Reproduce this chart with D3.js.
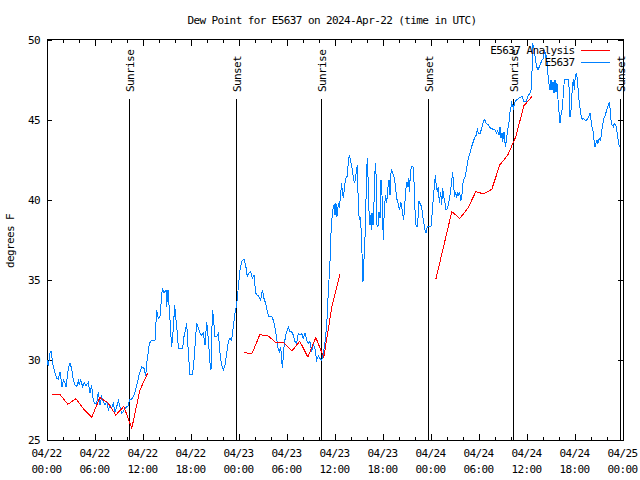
<!DOCTYPE html>
<html><head><meta charset="utf-8">
<script src="https://cdn.jsdelivr.net/npm/d3@7"></script>
<style>
body{margin:0;background:#fff}
svg{display:block}
text{font-family:"DejaVu Sans Mono",monospace;font-size:11px;letter-spacing:-0.6px;fill:#000}
</style></head><body>
<svg id="c" width="640" height="480"></svg>
<script>
const chartTitle = "Dew Point for E5637 on 2024-Apr-22 (time in UTC)";
const yAxisLabel = "degrees F";
const startTime = "2024-04-22T00:00:00Z";
const endTime = "2024-04-25T00:00:00Z";
const yTicks = [25, 30, 35, 40, 45, 50];
const seriesNames = ["E5637 Analysis", "E5637"];
const sunLabels = ["Sunrise", "Sunset", "Sunrise", "Sunset", "Sunrise", "Sunset"];
const sunTimes = ["2024-04-22T10:17:00Z", "2024-04-22T23:40:00Z", "2024-04-23T10:16:00Z",
                  "2024-04-23T23:40:00Z", "2024-04-24T10:14:00Z", "2024-04-24T23:40:00Z"];

// Analysis: hourly values, three runs (start hour offset from startTime)
const analysisStartHours = [0.6, 24.6, 48.6];
const analysisRun1 = [27.86, 27.86, 27.23, 27.58, 26.92, 26.42, 27.65, 27.33, 26.56, 27.1, 25.73, 28.1, 29.2];
const analysisRun2 = [30.48, 30.38, 31.58, 31.52, 31.1, 31.08, 30.56, 31.17, 30.19, 31.4, 30.17, 33.3, 35.35];
const analysisRun3 = [35.04, 37.15, 39.27, 38.85, 39.48, 40.52, 40.38, 40.67, 42.19, 42.81, 43.96, 45.88, 46.46];

// Station observations: hours after startTime and dew point (F)
const obsHours = [
0,0.17,0.375,0.5,0.67,0.79,1,1.21,1.42,1.625,1.71,1.875,2.04,2.25,2.375,2.67,2.875,3.08,3.29,3.5,3.71,3.92,4.04,4.21,4.46,4.67,4.875,5.17,5.375,5.58,5.71,5.92,6.21,6.42,6.625,6.83,7.04,7.25,7.46,7.67,7.875,8.08,8.29,8.5,8.71,8.92,9.125,9.33,9.54,9.75,9.96,10.17,10.29,10.58,10.875,11.21,11.5,11.83,12.125,12.33,12.46,12.79,13.08,13.5,13.71,13.92,14.125,14.42,14.625,14.875,14.96,15.125,15.375,15.58,15.71,15.79,15.96,16.125,16.29,16.42,16.96,17.125,17.46,17.67,17.875,18.21,18.375,18.71,18.92,19.125,19.33,19.54,19.75,19.96,20.17,20.375,20.5,20.67,20.79,21,21.21,21.42,21.625,21.83,22.04,22.25,22.46,22.67,22.875,23.08,23.29,23.5,23.71,23.92,24.125,24.33,24.625,24.83,25.04,25.25,25.46,25.67,25.875,26.08,26.29,26.5,26.71,26.92,27.125,27.33,27.46,27.67,28.08,28.29,28.5,28.71,28.92,29.04,29.21,29.42,29.625,29.83,30.04,30.17,30.375,30.58,30.79,31,31.21,31.42,31.625,31.83,32.04,32.25,32.46,32.67,32.875,33.08,33.29,33.5,33.71,33.92,34.125,34.33,34.54,34.75,34.96,35.08,35.17,
35.25,35.375,35.5,35.67,35.79,35.92,36,36.125,36.25,36.42,36.54,36.71,36.83,36.92,37.04,37.17,37.33,37.5,37.58,37.67,37.79,37.92,38.04,38.17,38.33,38.46,38.58,38.71,38.79,38.92,39.04,39.17,39.29,39.42,39.5,39.58,39.71,39.83,39.92,40.04,40.125,40.21,40.33,40.42,40.54,40.625,40.75,40.83,40.96,41.04,41.17,41.25,41.375,41.5,41.625,41.75,41.875,42.04,42.17,42.33,42.46,42.58,42.75,42.875,43,43.08,43.21,43.33,43.46,43.58,43.71,43.83,43.96,44.08,44.21,44.33,44.46,44.58,44.71,44.83,44.96,45.08,45.17,45.29,45.42,45.54,45.75,45.875,46,46.125,46.25,46.375,46.5,
46.625,46.83,47.04,47.25,47.375,47.54,48,48.21,48.375,48.54,48.67,48.79,48.92,49.04,49.21,49.33,49.46,49.625,49.75,49.875,50.04,50.21,50.375,50.54,50.71,50.83,50.96,51.08,51.21,51.33,51.46,51.58,51.71,51.83,51.96,52.08,52.25,52.46,52.67,52.875,53.08,53.29,53.5,53.71,53.79,53.92,54.125,54.33,54.54,54.71,54.875,55.17,55.46,55.79,56,56.21,56.33,56.5,56.625,56.75,56.875,56.96,57.125,57.29,57.46,57.58,57.71,
57.875,58.08,58.29,58.5,58.71,59.125,59.42,59.625,59.875,60.17,60.375,60.5,60.625,60.71,60.875,61.04,61.21,61.375,61.54,61.71,61.875,62.04,62.21,62.375,62.46,62.58,62.71,62.875,63,63.125,63.25,63.375,63.5,63.625,63.75,63.92,64.125,64.25,64.375,64.54,64.67,64.79,64.96,65.17,65.29,65.375,65.5,65.625,65.79,65.92,66.04,66.21,66.375,66.5,66.625,66.75,66.875,67.04,67.25,67.46,67.67,67.875,68,68.125,68.25,68.375,68.5,68.625,68.75,68.875,69.04,69.21,69.33,69.46,69.625,69.79,69.96,70.17,70.29,70.375,70.5,70.625,70.79,70.92,71.04,71.17,71.29,71.42,71.54,71.67];
const obsDewF = [
30.0,29.6,30.45,30.55,30.0,29.58,29.17,28.85,28.79,29.27,28.96,28.33,28.75,28.54,28.33,29.48,29.79,29.48,28.75,28.44,28.33,28.69,28.44,28.75,28.33,28.58,28.4,28.6,27.92,28.44,27.71,27.29,27.29,28.02,27.19,27.71,27.4,27.19,27.4,26.875,27.19,26.98,27.29,26.77,27.08,27.46,27.08,26.67,26.77,26.98,27.08,27.125,27.5,27.56,27.81,28.375,29.06,29.58,29.48,29.0,29.75,31.04,31.25,31.25,33.125,32.6,32.71,34.48,34.17,34.375,33.33,34.375,32.5,30.83,31.46,31.98,33.44,32.5,31.67,30.73,30.73,31.46,32.29,30.42,29.06,29.125,30.0,32.29,31.98,31.67,31.56,31.67,30.94,32.4,31.25,29.79,29.375,33.125,32.71,31.46,31.46,31.67,30.42,29.69,29.375,29.69,30.42,31.15,31.35,31.25,32.08,32.92,33.44,34.58,35.625,36.15,36.31,35.94,35.21,35.42,35.52,35.1,35.31,34.17,34.06,33.96,33.75,34.375,33.85,33.54,33.23,32.75,32.71,32.5,31.98,31.35,30.625,30.52,30.83,29.48,30.83,31.56,31.875,32.08,31.77,31.77,31.56,31.15,31.04,31.67,31.56,31.67,31.35,31.67,31.25,31.04,31.15,30.52,31.0,30.67,30.0,30.25,30.1,29.96,30.4,31.1,32.2,33.3,34.4,
35.0,36.15,37.92,39.17,39.58,39.69,39.06,39.79,38.96,39.79,39.48,40.42,41.04,40.52,40.1,40.73,41.35,41.46,41.77,42.4,42.81,42.5,42.19,41.875,41.25,41.04,41.46,41.875,42.19,39.58,38.75,38.96,37.92,36.04,34.9,35.83,37.19,38.54,41.46,42.6,41.46,39.79,38.44,39.06,38.125,39.17,38.44,39.06,41.25,42.29,41.25,38.44,38.33,39.27,38.85,41.25,40.31,37.5,39.58,40.31,39.79,40.625,41.25,40.31,41.67,41.92,41.67,41.56,41.25,40.73,40.1,39.9,39.58,39.375,39.9,39.58,39.17,38.75,39.58,40.52,41.15,40.83,41.35,40.52,41.56,42.08,42.08,41.15,39.375,38.44,38.33,38.85,39.9,
39.79,39.58,38.75,38.125,37.92,38.33,38.33,39.58,40.625,41.56,40.83,40.52,40.83,39.79,40.52,39.69,40.73,40.1,39.79,39.375,39.48,39.79,40.31,40.94,41.77,40.83,40.21,40.52,40.1,40.52,40.31,40.52,40.0,40.1,40.94,41.25,41.46,41.98,42.6,42.92,43.33,43.65,43.96,44.06,44.48,44.17,44.125,44.48,44.9,45.04,44.79,44.69,44.48,44.42,44.375,44.17,44.33,44.06,44.54,43.85,44.17,43.65,44.27,43.33,43.85,44.375,44.69,
45.5,46.04,45.73,46.15,46.25,46.42,46.46,46.15,46.15,46.56,46.67,46.875,48.02,49.79,49.48,48.85,48.33,48.125,48.33,48.54,48.75,48.85,49.375,48.85,49.06,48.02,47.4,46.875,47.5,46.875,47.4,46.67,47.5,46.77,47.29,45.94,44.79,45.31,45.625,46.56,47.54,47.54,47.5,47.54,46.875,45.21,45.625,46.67,47.54,46.875,47.81,47.92,46.98,46.25,45.73,45.31,45.04,45.1,45.0,45.0,45.17,45.42,45.0,44.58,44.33,43.75,43.33,43.54,43.75,43.54,43.85,43.75,44.27,44.69,45.1,45.31,45.625,45.94,46.15,45.73,45.0,44.69,44.58,44.79,44.69,44.58,44.06,43.65,43.375,43.33];

const RED = "#ff0000", BLUE = "#0080ff";
const base = new Date(startTime);
const toDate = h => new Date(base.getTime() + h * 3600000);

const svg = d3.select("#c").attr("shape-rendering", "crispEdges");
const L = 47, R = 623, T = 40, B = 440;
const x = d3.scaleUtc().domain([new Date(startTime), new Date(endTime)]).range([L, R]);
const y = d3.scaleLinear().domain([25, 50]).range([B, T]);

svg.append("rect").attr("width", 640).attr("height", 480).attr("fill", "#fff");

// title & y label
svg.append("text").attr("x", 332).attr("y", 24).attr("text-anchor", "middle").text(chartTitle);
svg.append("text").attr("transform", "translate(14,241) rotate(-90)").attr("text-anchor", "middle").text(yAxisLabel);

// axes
const major = d3.utcHour.every(6), minor = d3.utcHour.every(2);
const fmtD = d3.utcFormat("%m/%d"), fmtT = d3.utcFormat("%H:%M");
const gx = svg.append("g").attr("transform", `translate(0,${B})`)
  .call(d3.axisBottom(x).ticks(major).tickSize(-6).tickSizeOuter(0).tickFormat(fmtD));
gx.select(".domain").remove();
gx.selectAll(".tick text").each(function(d) {
  const t = d3.select(this).text("").attr("y", 0).attr("dy", null).attr("x", -1);
  t.append("tspan").attr("x", -1).attr("y", 17).text(fmtD(d));
  t.append("tspan").attr("x", -1).attr("y", 33).text(fmtT(d));
});
const gxm = svg.append("g").attr("transform", `translate(0,${B})`)
  .call(d3.axisBottom(x).ticks(minor).tickSize(-3).tickSizeOuter(0).tickFormat(""));
gxm.select(".domain").remove();
const gxt = svg.append("g").attr("transform", `translate(0,${T})`)
  .call(d3.axisTop(x).ticks(major).tickSize(-6).tickSizeOuter(0).tickFormat(""));
gxt.select(".domain").remove();
const gxtm = svg.append("g").attr("transform", `translate(0,${T})`)
  .call(d3.axisTop(x).ticks(minor).tickSize(-3).tickSizeOuter(0).tickFormat(""));
gxtm.select(".domain").remove();

const gy = svg.append("g").attr("transform", `translate(${L},0)`)
  .call(d3.axisLeft(y).tickValues(yTicks).tickSize(-5).tickSizeOuter(0).tickPadding(7));
gy.select(".domain").remove();
gy.selectAll(".tick text").attr("dy", "0.36em");
const gyr = svg.append("g").attr("transform", `translate(${R},0)`)
  .call(d3.axisRight(y).tickValues(yTicks).tickSize(-5).tickSizeOuter(0).tickFormat(""));
gyr.select(".domain").remove();
svg.selectAll(".tick line").attr("stroke", "#000");
svg.selectAll(".tick text").attr("fill", "#000").attr("font-family", null).attr("font-size", null);

svg.append("rect").attr("x", L + 0.5).attr("y", T - 0.5).attr("width", R - L).attr("height", B - T + 0.5)
  .attr("fill", "none").attr("stroke", "#000");

// sunrise / sunset markers
const sun = svg.append("g");
sunTimes.forEach((s, i) => {
  const sx = Math.round(x(new Date(s))) + 0.5;
  sun.append("line").attr("x1", sx).attr("x2", sx).attr("y1", 99).attr("y2", B).attr("stroke", "#000");
  sun.append("text").attr("transform", `translate(${sx + 4.5},92) rotate(-90)`).text(sunLabels[i]);
});

// data lines
const line = d3.line().x(d => x(d[0])).y(d => y(d[1]));
const obs = obsHours.map((h, i) => [toDate(h), obsDewF[i]]);
svg.append("path").datum(obs).attr("d", line).attr("fill", "none").attr("stroke", BLUE).attr("stroke-width", 1);

[analysisRun1, analysisRun2, analysisRun3].forEach((run, k) => {
  const pts = run.map((v, i) => [toDate(analysisStartHours[k] + i), v]);
  svg.append("path").datum(pts).attr("d", line).attr("fill", "none").attr("stroke", RED).attr("stroke-width", 1);
});

// legend
const leg = svg.append("g");
[RED, BLUE].forEach((c, i) => {
  const ly = 50 + i * 12;
  leg.append("text").attr("x", 574.6).attr("y", ly + 4).attr("text-anchor", "end").text(seriesNames[i]);
  leg.append("line").attr("x1", 581).attr("x2", 610).attr("y1", ly + 0.5).attr("y2", ly + 0.5).attr("stroke", c);
});
</script></body></html>
